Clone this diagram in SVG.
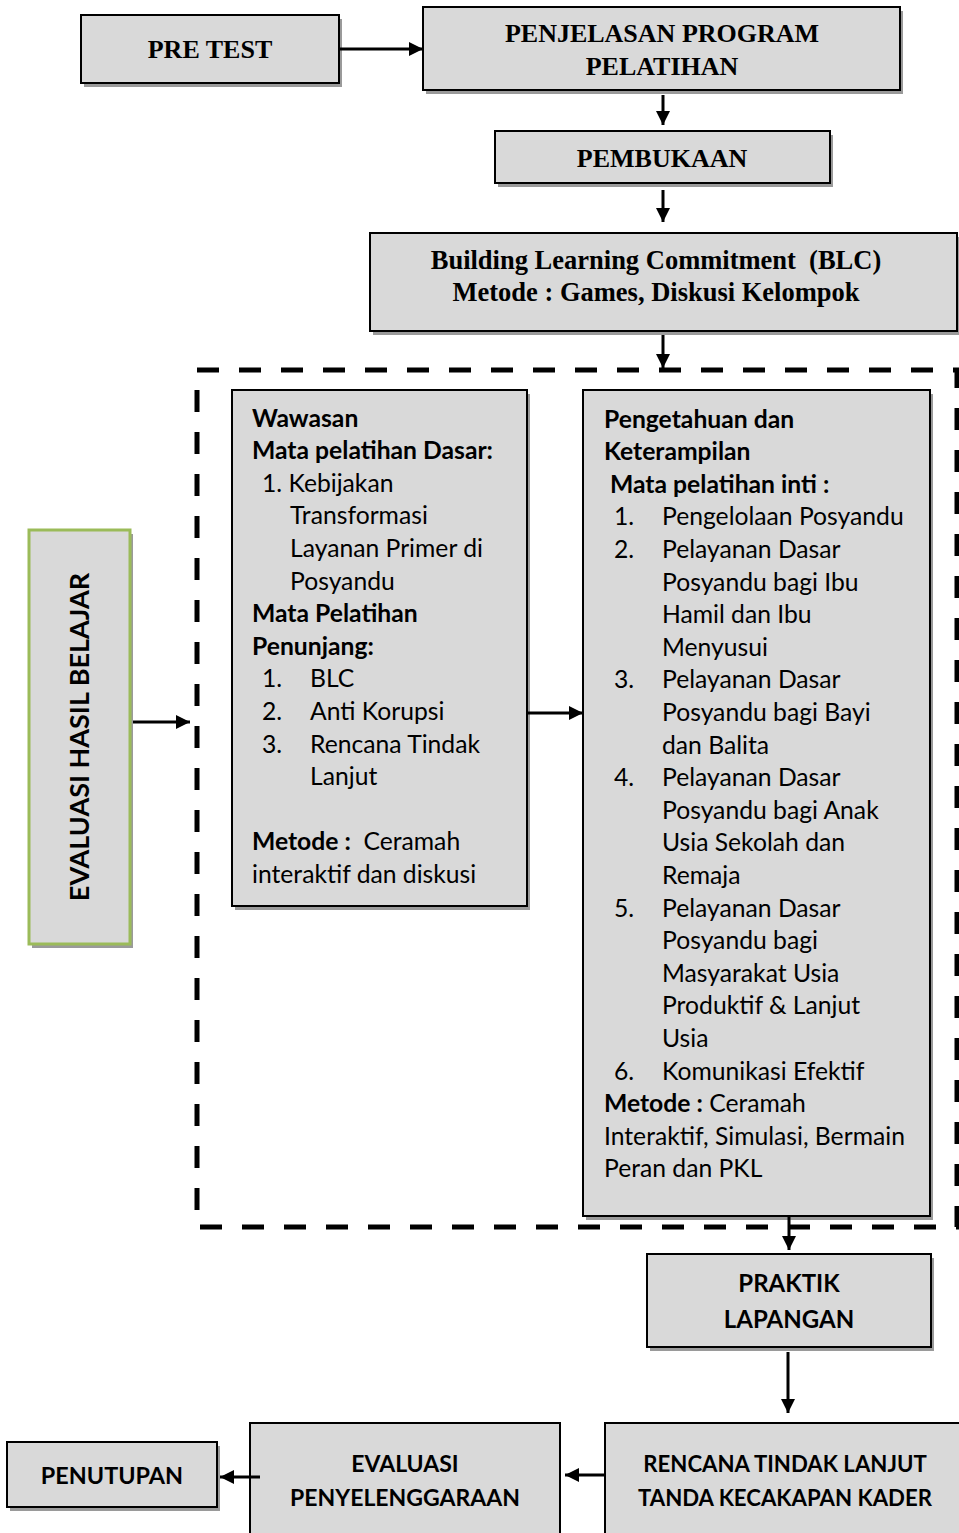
<svg xmlns="http://www.w3.org/2000/svg" width="959" height="1533" viewBox="0 0 959 1533">
<defs>
<style>
.box{fill:#d9d9d9;stroke:#000;stroke-width:2}
.sh{fill:#9a9a9a}
.tnr{font-family:"Liberation Serif","Times New Roman",serif;font-weight:bold;font-size:26px;fill:#000;text-anchor:middle}
.cb{font-family:Lato,"Open Sans",sans-serif;font-size:24.7px;fill:#000}
.b{font-weight:bold}
.cbc{font-family:Lato,"Open Sans",sans-serif;font-weight:bold;font-size:24px;fill:#000;text-anchor:middle}
.con{stroke:#000;stroke-width:3;fill:none;marker-end:url(#ah)}
</style>
<marker id="ah" markerUnits="userSpaceOnUse" markerWidth="16" markerHeight="14" refX="14" refY="7" orient="auto">
<path d="M0,0 L14,7 L0,14 z" fill="#000"/>
</marker>
</defs>
<rect width="959" height="1533" fill="#fff"/>

<g id="pretest">
<rect class="sh" x="84" y="19" width="258" height="68"/>
<rect class="box" x="81" y="15" width="258" height="68"/>
<text class="tnr" x="210" y="58">PRE TEST</text>
</g>

<g id="penjelasan">
<rect class="sh" x="426" y="11" width="477" height="83"/>
<rect class="box" x="423" y="7" width="477" height="83"/>
<text class="tnr" x="662" y="42">PENJELASAN PROGRAM</text>
<text class="tnr" x="662" y="75">PELATIHAN</text>
</g>

<g id="pembukaan">
<rect class="sh" x="498" y="135" width="335" height="52"/>
<rect class="box" x="495" y="131" width="335" height="52"/>
<text class="tnr" x="662" y="167">PEMBUKAAN</text>
</g>

<g id="blc">
<rect class="sh" x="373" y="237" width="587" height="98"/>
<rect class="box" x="370" y="233" width="587" height="98"/>
<text class="tnr" x="656" y="269" style="font-size:26.5px">Building Learning Commitment&#160; (BLC)</text>
<text class="tnr" x="656" y="301" style="font-size:26.5px">Metode : Games, Diskusi Kelompok</text>
</g>

<g id="materi-group">
<rect x="197" y="370" width="760" height="857" fill="none" stroke="#000" stroke-width="5" stroke-dasharray="22 20"/>
</g>

<g id="wawasan">
<rect class="sh" x="235" y="394" width="295" height="516"/>
<rect class="box" x="232" y="390" width="295" height="516"/>
<text class="cb b" x="252" y="426.5">Wawasan</text>
<text class="cb b" x="252" y="459">Mata pelatihan Dasar:</text>
<text class="cb" x="262" y="491.7">1. Kebijakan</text>
<text class="cb" x="290" y="524.3">Transformasi</text>
<text class="cb" x="290" y="556.9">Layanan Primer di</text>
<text class="cb" x="290" y="589.5">Posyandu</text>
<text class="cb b" x="252" y="622.1">Mata Pelatihan</text>
<text class="cb b" x="252" y="654.7">Penunjang:</text>
<text class="cb" x="262" y="687.3">1.</text><text class="cb" x="310" y="687.3">BLC</text>
<text class="cb" x="262" y="719.9">2.</text><text class="cb" x="310" y="719.9">Anti Korupsi</text>
<text class="cb" x="262" y="752.5">3.</text><text class="cb" x="310" y="752.5">Rencana Tindak</text>
<text class="cb" x="310" y="785.1">Lanjut</text>
<text class="cb" x="252" y="850.3"><tspan class="b">Metode :</tspan>&#160;&#160;Ceramah</text>
<text class="cb" x="252" y="882.9">interaktif dan diskusi</text>
</g>

<g id="pengetahuan">
<rect class="sh" x="586" y="394" width="347" height="826"/>
<rect class="box" x="583" y="390" width="347" height="826"/>
<text class="cb b" x="604" y="427.5">Pengetahuan dan</text>
<text class="cb b" x="604" y="460.1">Keterampilan</text>
<text class="cb b" x="610" y="492.7">Mata pelatihan inti :</text>
<text class="cb" x="614" y="525.3">1.</text><text class="cb" x="662" y="525.3">Pengelolaan Posyandu</text>
<text class="cb" x="614" y="557.9">2.</text><text class="cb" x="662" y="557.9">Pelayanan Dasar</text>
<text class="cb" x="662" y="590.5">Posyandu bagi Ibu</text>
<text class="cb" x="662" y="623.1">Hamil dan Ibu</text>
<text class="cb" x="662" y="655.7">Menyusui</text>
<text class="cb" x="614" y="688.3">3.</text><text class="cb" x="662" y="688.3">Pelayanan Dasar</text>
<text class="cb" x="662" y="720.9">Posyandu bagi Bayi</text>
<text class="cb" x="662" y="753.5">dan Balita</text>
<text class="cb" x="614" y="786.1">4.</text><text class="cb" x="662" y="786.1">Pelayanan Dasar</text>
<text class="cb" x="662" y="818.7">Posyandu bagi Anak</text>
<text class="cb" x="662" y="851.3">Usia Sekolah dan</text>
<text class="cb" x="662" y="883.9">Remaja</text>
<text class="cb" x="614" y="916.5">5.</text><text class="cb" x="662" y="916.5">Pelayanan Dasar</text>
<text class="cb" x="662" y="949.1">Posyandu bagi</text>
<text class="cb" x="662" y="981.7">Masyarakat Usia</text>
<text class="cb" x="662" y="1014.3">Produktif &amp; Lanjut</text>
<text class="cb" x="662" y="1046.9">Usia</text>
<text class="cb" x="614" y="1079.5">6.</text><text class="cb" x="662" y="1079.5">Komunikasi Efektif</text>
<text class="cb" x="604" y="1112.1"><tspan class="b">Metode :</tspan> Ceramah</text>
<text class="cb" x="604" y="1144.7">Interaktif, Simulasi, Bermain</text>
<text class="cb" x="604" y="1177.3">Peran dan PKL</text>
</g>

<g id="evaluasi-hasil">
<rect class="sh" x="32" y="534" width="101" height="414"/>
<rect x="29" y="530" width="101" height="414" fill="#d9d9d9" stroke="#9bbb59" stroke-width="3"/>
<text class="cbc" transform="translate(89 737) rotate(-90)" style="font-size:27px">EVALUASI HASIL BELAJAR</text>
</g>

<g id="praktik">
<rect class="sh" x="650" y="1258" width="284" height="93"/>
<rect class="box" x="647" y="1254" width="284" height="93"/>
<text class="cbc" x="789" y="1292">PRAKTIK</text>
<text class="cbc" x="789" y="1328">LAPANGAN</text>
</g>

<g id="rencana">
<rect class="box" x="605" y="1423" width="360" height="120"/>
<text class="cbc" x="785" y="1472" style="font-size:22.2px">RENCANA TINDAK LANJUT</text>
<text class="cbc" x="785" y="1506" style="font-size:22.2px">TANDA KECAKAPAN KADER</text>
</g>

<g id="evaluasi-penyelenggaraan">
<rect class="box" x="250" y="1423" width="310" height="120"/>
<text class="cbc" x="405" y="1472" style="font-size:23px">EVALUASI</text>
<text class="cbc" x="405" y="1506" style="font-size:23px">PENYELENGGARAAN</text>
</g>

<g id="penutupan">
<rect class="sh" x="10" y="1446" width="210" height="65"/>
<rect class="box" x="7" y="1442" width="210" height="65"/>
<text class="cbc" x="112" y="1484" style="font-size:23.4px">PENUTUPAN</text>
</g>

<g id="connectors">
<line class="con" x1="339" y1="49" x2="423" y2="49"/>
<line class="con" x1="663" y1="95" x2="663" y2="125"/>
<line class="con" x1="663" y1="190" x2="663" y2="222"/>
<line class="con" x1="663" y1="335" x2="663" y2="368"/>
<line class="con" x1="133" y1="722" x2="190" y2="722"/>
<line class="con" x1="527" y1="713" x2="583" y2="713"/>
<line class="con" x1="789" y1="1216" x2="789" y2="1250"/>
<line class="con" x1="788" y1="1352" x2="788" y2="1413"/>
<line class="con" x1="604" y1="1475" x2="565" y2="1475"/>
<line class="con" x1="260" y1="1477" x2="220" y2="1477"/>
</g>
</svg>
